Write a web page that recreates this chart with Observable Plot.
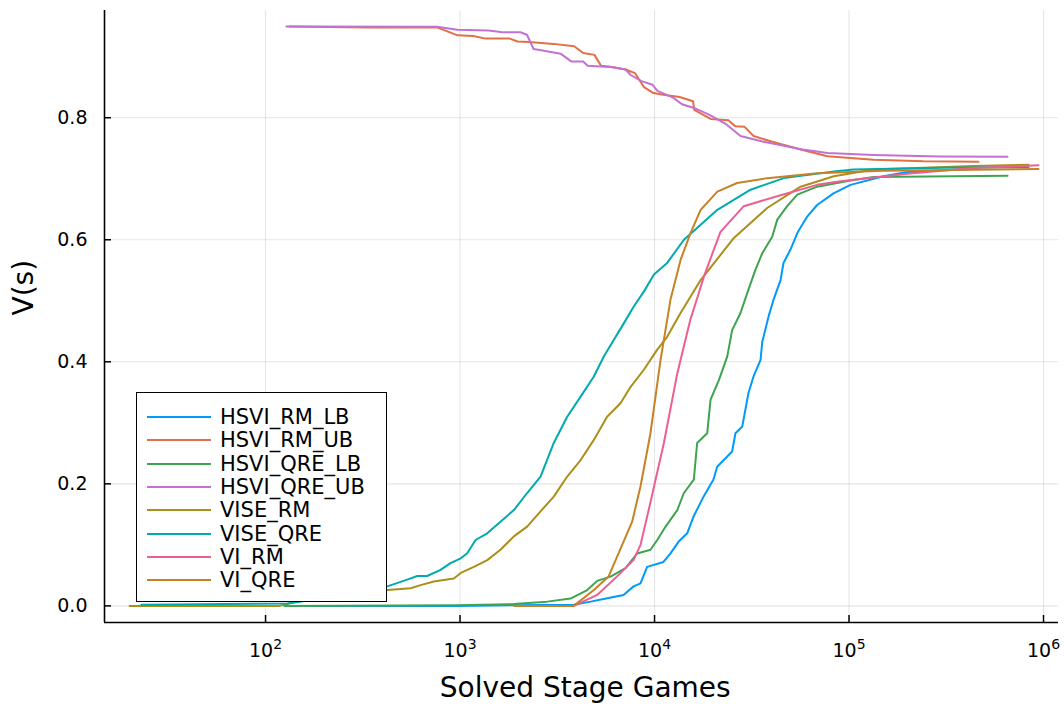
<!DOCTYPE html>
<html>
<head>
<meta charset="utf-8">
<script src="https://cdn.jsdelivr.net/npm/d3@7"></script>
<script src="https://cdn.jsdelivr.net/npm/@observablehq/plot@0.6"></script>
<style>
  html, body { margin: 0; padding: 0; background: #fff; }
  #chart { position: relative; width: 1064px; height: 704px; font-family: "DejaVu Sans", sans-serif; }
  #legend { position: absolute; left: 136px; top: 392px; width: 251px; height: 210px; box-sizing: border-box;
            border: 1.5px solid #000; background: #fff; font-size: 21px; color: #000; }
  #legend .row { position: absolute; left: 0; height: 23px; display: flex; align-items: center; white-space: nowrap; }
  #legend svg { margin-left: 9.5px; margin-right: 9.5px; }
</style>
</head>
<body>
<div id="chart"></div>
<script>
// Series names and Plots.jl default palette colours
const seriesNames = ["HSVI_RM_LB", "HSVI_RM_UB", "HSVI_QRE_LB", "HSVI_QRE_UB", "VISE_RM", "VISE_QRE", "VI_RM", "VI_QRE"];
const seriesColors = ["#009AFA", "#E36F47", "#3EA44E", "#C371D2", "#AC8E18", "#00AAAE", "#ED5E93", "#C68225"];

// Solved stage games (x) and value estimate V(s) (y) for each solver
const hsviRmLbX = [128, 955, 1905, 3840, 4690, 5715, 6930, 7800, 8470, 9160, 11120, 12080, 13280, 14720, 15850, 17860, 20090, 20990, 25060, 26060, 28250, 30410, 32280, 35080, 35810, 38550, 40930, 44460, 46030, 50000, 54200, 60950, 68550, 83180, 101800, 150300, 199100, 436500, 463400];
const hsviRmLbY = [0, 0, 0.001, 0.002, 0.007, 0.0126, 0.018, 0.032, 0.037, 0.064, 0.072, 0.086, 0.105, 0.119, 0.146, 0.179, 0.207, 0.228, 0.253, 0.283, 0.294, 0.349, 0.376, 0.403, 0.433, 0.474, 0.502, 0.534, 0.562, 0.584, 0.611, 0.638, 0.657, 0.676, 0.690, 0.704, 0.711, 0.716, 0.717];

const hsviRmUbX = [133, 334, 762, 971, 1167, 1337, 1786, 1977, 2265, 3027, 3864, 4295, 4909, 5309, 6081, 7096, 7943, 8831, 9772, 10860, 13460, 15780, 16000, 19410, 23990, 26000, 29040, 32280, 39900, 57680, 77450, 133700, 241500, 463400];
const hsviRmUbY = [0.9495, 0.948, 0.948, 0.935, 0.934, 0.930, 0.930, 0.925, 0.924, 0.921, 0.917, 0.906, 0.903, 0.885, 0.883, 0.879, 0.873, 0.850, 0.841, 0.838, 0.834, 0.827, 0.813, 0.798, 0.796, 0.786, 0.785, 0.770, 0.761, 0.747, 0.737, 0.731, 0.7285, 0.728];

const hsviQreLbX = [125, 955, 1884, 2805, 3698, 4508, 5070, 5940, 7096, 8147, 9530, 10330, 11400, 13090, 14160, 15920, 16560, 18660, 19410, 21420, 23660, 25060, 27670, 29990, 33040, 35810, 40270, 42760, 48080, 54200, 68550, 101800, 133700, 653100];
const hsviQreLbY = [0, 0.001, 0.003, 0.007, 0.012, 0.026, 0.041, 0.048, 0.062, 0.086, 0.092, 0.108, 0.130, 0.157, 0.185, 0.207, 0.267, 0.283, 0.338, 0.370, 0.409, 0.452, 0.480, 0.513, 0.551, 0.578, 0.605, 0.633, 0.655, 0.674, 0.687, 0.697, 0.703, 0.705];

const hsviQreUbX = [128, 762, 971, 1403, 1652, 2046, 2208, 2388, 2655, 3289, 3741, 4295, 4529, 5916, 7096, 7534, 8570, 9772, 10350, 12450, 13840, 16260, 19050, 23440, 27670, 35890, 57680, 77450, 133700, 295100, 653100];
const hsviQreUbY = [0.9495, 0.949, 0.944, 0.943, 0.940, 0.940, 0.936, 0.9126, 0.910, 0.905, 0.892, 0.892, 0.885, 0.883, 0.879, 0.870, 0.860, 0.854, 0.844, 0.833, 0.822, 0.815, 0.805, 0.789, 0.770, 0.761, 0.748, 0.742, 0.739, 0.7366, 0.736];

const viseRmX = [20, 118, 140, 250, 423, 557, 627, 733, 929, 1009, 1178, 1380, 1614, 1892, 2213, 2594, 3034, 3556, 4169, 4875, 5702, 6683, 7534, 8810, 10330, 11610, 13610, 17260, 25590, 37930, 56360, 83560, 133700, 436500, 837500];
const viseRmY = [0, 0, 0.006, 0.018, 0.026, 0.029, 0.034, 0.040, 0.045, 0.054, 0.064, 0.075, 0.092, 0.114, 0.130, 0.155, 0.179, 0.212, 0.239, 0.272, 0.310, 0.332, 0.359, 0.387, 0.420, 0.441, 0.480, 0.534, 0.603, 0.652, 0.687, 0.704, 0.715, 0.721, 0.723];

const viseQreX = [23, 130, 250, 423, 535, 603, 678, 794, 893, 1009, 1089, 1202, 1380, 1614, 1892, 2213, 2594, 3034, 3556, 4169, 4875, 5495, 6180, 6950, 7834, 8810, 9931, 11610, 14160, 21040, 31190, 46240, 83560, 105400, 300000, 837500];
const viseQreY = [0.002, 0.004, 0.018, 0.032, 0.043, 0.049, 0.049, 0.059, 0.070, 0.078, 0.0864, 0.108, 0.119, 0.138, 0.157, 0.185, 0.212, 0.267, 0.310, 0.343, 0.376, 0.409, 0.436, 0.463, 0.491, 0.515, 0.543, 0.562, 0.600, 0.649, 0.682, 0.701, 0.712, 0.715, 0.718, 0.719];

const viRmX = [1905, 3846, 5070, 6403, 7800, 8470, 9530, 11170, 13090, 15310, 16600, 17950, 21830, 28770, 44460, 68550, 90360, 199100, 436500, 941900];
const viRmY = [0, 0, 0.018, 0.048, 0.075, 0.100, 0.170, 0.267, 0.381, 0.470, 0.505, 0.540, 0.613, 0.655, 0.673, 0.690, 0.696, 0.708, 0.7175, 0.722];

const viQreX = [1905, 3840, 4876, 5800, 7674, 8472, 9530, 10740, 12080, 13610, 15310, 17260, 21040, 26610, 37930, 68550, 150300, 941900];
const viQreY = [0, 0, 0.026, 0.048, 0.138, 0.196, 0.283, 0.403, 0.502, 0.567, 0.611, 0.649, 0.679, 0.693, 0.701, 0.709, 0.713, 0.716];

// Axis ticks
const xTicks = [1e2, 1e3, 1e4, 1e5, 1e6];
const yTicks = [0, 0.2, 0.4, 0.6, 0.8];

const seriesX = [hsviRmLbX, hsviRmUbX, hsviQreLbX, hsviQreUbX, viseRmX, viseQreX, viRmX, viQreX];
const seriesY = [hsviRmLbY, hsviRmUbY, hsviQreLbY, hsviQreUbY, viseRmY, viseQreY, viRmY, viQreY];
const rows = seriesNames.flatMap((name, i) => seriesX[i].map((x, j) => ({series: name, x, y: seriesY[i][j]})));

const width = 1064, height = 704;
const margin = {left: 104, right: 6, top: 10, bottom: 82};
const frameW = width - margin.left - margin.right;
const frameH = height - margin.top - margin.bottom;
const xDomain = [10 ** 1.172, 10 ** 6.077];
const yDomain = [-0.0272, 0.9757];

const chart = Plot.plot({
  width, height,
  marginLeft: margin.left, marginRight: margin.right, marginTop: margin.top, marginBottom: margin.bottom,
  style: {fontFamily: "DejaVu Sans, sans-serif", background: "#fff", color: "#000", overflow: "visible"},
  x: {type: "log", domain: xDomain},
  y: {domain: yDomain},
  color: {domain: seriesNames, range: seriesColors},
  marks: [
    Plot.gridX(xTicks, {stroke: "#000", strokeOpacity: 0.1, strokeWidth: 1.1}),
    Plot.gridY(yTicks, {stroke: "#000", strokeOpacity: 0.1, strokeWidth: 1.1}),
    Plot.line(rows, {x: "x", y: "y", z: "series", stroke: "series", strokeWidth: 2, strokeLinejoin: "round"}),
    // inward tick marks on the left and bottom spines
    Plot.tickY(yTicks, {y: d => d, stroke: "#000", strokeWidth: 1.5, insetRight: frameW - 7}),
    Plot.tickX(xTicks, {x: d => d, stroke: "#000", strokeWidth: 1.5, insetTop: frameH - 7}),
    Plot.ruleX([xDomain[0]], {stroke: "#000", strokeWidth: 1.6}),
    Plot.ruleY([yDomain[0]], {stroke: "#000", strokeWidth: 1.6, x1: xDomain[0], x2: xDomain[1]}),
    Plot.axisY(yTicks, {tickSize: 0, tickPadding: 17, tickFormat: d3.format(".1f"), fontSize: 19, label: null}),
    // decade labels written as "10^k"; the exponent becomes a raised tspan below
    Plot.axisX(xTicks, {tickSize: 0, tickPadding: 21, tickFormat: d => "10^" + Math.round(Math.log10(d)), fontSize: 19, label: null}),
    Plot.text(["Solved Stage Games"], {frameAnchor: "bottom", lineAnchor: "bottom", dy: 74.5, dx: 3.7, fontSize: 28}),
    Plot.text(["V(s)"], {frameAnchor: "left", rotate: -90, dx: -80, dy: -1, fontSize: 28})
  ]
});

// Turn "10^k" tick labels into 10 with a superscript exponent
d3.select(chart).selectAll("text").each(function () {
  const t = d3.select(this);
  const s = t.text();
  const m = /^10\^(\d+)$/.exec(s);
  if (!m) return;
  t.text("10");
  t.append("tspan").attr("dy", "-0.58em").attr("font-size", "14px").text(m[1]);
});

const container = document.getElementById("chart");
container.appendChild(chart);

// Legend box in the lower-left corner of the plot area
const legend = d3.select(container).append("div").attr("id", "legend");
seriesNames.forEach((name, i) => {
  const row = legend.append("div").attr("class", "row").style("top", (12.5 + i * 23.3) + "px");
  const sw = row.append("svg").attr("width", 64).attr("height", 4);
  sw.append("line").attr("x1", 0).attr("x2", 64).attr("y1", 2).attr("y2", 2)
    .attr("stroke", seriesColors[i]).attr("stroke-width", 2);
  row.append("span").text(name);
});
</script>
</body>
</html>
